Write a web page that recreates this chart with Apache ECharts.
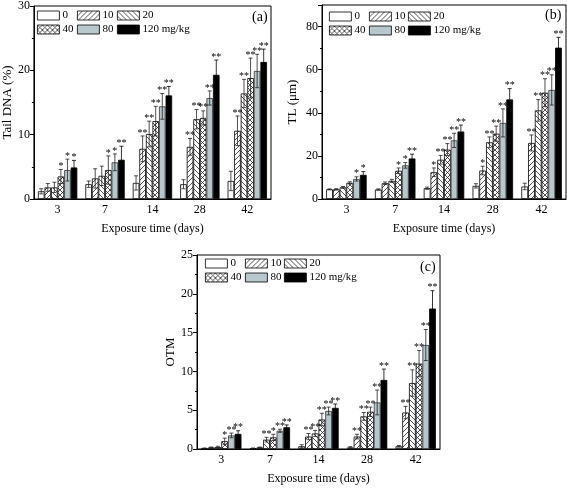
<!DOCTYPE html>
<html>
<head>
<meta charset="utf-8">
<script src="https://cdn.jsdelivr.net/npm/echarts@6/dist/echarts.min.js"></script>
<style>html,body{margin:0;padding:0;background:#fff;}#c{width:567px;height:488px;}</style>
</head>
<body>
<div id="c"></div>
<script>
// ---------- data ----------
const categories = ['3', '7', '14', '28', '42'];
const seriesNames = ['0', '10', '20', '40', '80', '120 mg/kg'];

// Tail DNA (%) rows = series (0,10,20,40,80,120), columns = days
const tailValues = [
  [1.2, 2.3, 2.5, 2.3, 2.8],
  [1.8, 3.2, 7.8, 8.1, 10.6],
  [1.8, 3.6, 10.1, 12.4, 16.4],
  [3.5, 4.5, 12.1, 12.6, 18.8],
  [4.5, 5.7, 14.4, 15.7, 19.9],
  [4.9, 6.1, 16.1, 19.3, 21.3]
];
const tailErrors = [
  [0.4, 0.5, 1.1, 0.7, 1.5],
  [0.6, 1.5, 2.0, 1.3, 2.3],
  [0.8, 1.5, 2.0, 1.5, 2.2],
  [1.1, 2.2, 2.3, 1.1, 3.1],
  [1.7, 1.3, 2.0, 1.1, 2.6],
  [1.1, 2.1, 1.4, 2.3, 2.0]
];
const tailStars = [
  ['', '', '', '', ''],
  ['', '', '**', '**', '**'],
  ['', '', '**', '**', '**'],
  ['*', '*', '**', '**', '**'],
  ['*', '*', '**', '**', '**'],
  ['*', '**', '**', '**', '**']
];

// TL (um)
const tlValues = [
  [4.5, 4.4, 5.0, 6.1, 5.8],
  [4.5, 7.3, 12.4, 13.2, 26.0],
  [5.4, 8.4, 18.2, 26.3, 41.1],
  [7.5, 13.1, 22.9, 30.3, 49.3],
  [9.3, 15.6, 27.2, 35.3, 50.6],
  [11.2, 18.8, 31.3, 46.2, 70.2]
];
const tlErrors = [
  [0.2, 0.3, 0.5, 1.0, 1.5],
  [0.3, 0.6, 2.0, 2.0, 3.7],
  [0.4, 0.7, 2.0, 2.5, 5.0],
  [0.5, 1.3, 2.8, 3.5, 6.5],
  [1.0, 1.3, 3.3, 6.5, 7.0],
  [1.5, 2.0, 3.0, 5.0, 4.8]
];
const tlStars = [
  ['', '', '', '', ''],
  ['', '', '*', '*', '**'],
  ['', '', '**', '**', '**'],
  ['', '*', '**', '**', '**'],
  ['*', '*', '**', '**', '**'],
  ['*', '**', '**', '**', '**']
];

// OTM
const otmValues = [
  [0.1, 0.1, 0.35, 0.2, 0.35],
  [0.2, 0.2, 1.6, 1.6, 4.7],
  [0.25, 1.2, 2.0, 4.2, 8.5],
  [1.0, 1.5, 3.8, 4.8, 11.0],
  [1.75, 2.35, 4.9, 6.0, 13.4],
  [1.95, 2.8, 5.3, 8.9, 18.1]
];
const otmErrors = [
  [0.03, 0.03, 0.2, 0.1, 0.1],
  [0.05, 0.05, 0.4, 0.3, 0.8],
  [0.1, 0.3, 0.4, 0.5, 1.7],
  [0.4, 0.4, 0.8, 0.6, 1.7],
  [0.3, 0.2, 0.5, 1.6, 2.0],
  [0.4, 0.3, 0.5, 1.4, 2.3]
];
const otmStars = [
  ['', '', '', '', ''],
  ['', '', '**', '**', '**'],
  ['', '**', '**', '**', '**'],
  ['*', '*', '**', '**', '**'],
  ['**', '**', '**', '**', '**'],
  ['**', '**', '**', '**', '**']
];

// ---------- styling helpers ----------
const FONT = 'Liberation Serif';
const CAT_GAP = 0.17;

function makePattern(kind) {
  const s = 5;
  const cv = document.createElement('canvas');
  cv.width = s; cv.height = s;
  const ctx = cv.getContext('2d');
  ctx.fillStyle = '#fff';
  ctx.fillRect(0, 0, s, s);
  ctx.strokeStyle = '#2a2a2a';
  ctx.lineWidth = 0.8;
  ctx.beginPath();
  for (let k = -1; k <= 1; k++) {
    if (kind === 'fwd' || kind === 'cross') {
      ctx.moveTo(k * s, s); ctx.lineTo(k * s + s, 0);
    }
    if (kind === 'back' || kind === 'cross') {
      ctx.moveTo(k * s, 0); ctx.lineTo(k * s + s, s);
    }
  }
  ctx.stroke();
  return { image: cv, repeat: 'repeat' };
}

const fills = [
  '#ffffff',
  makePattern('fwd'),
  makePattern('back'),
  makePattern('cross'),
  '#b7c7cb',
  '#000000'
];

const panels = [
  { vals: tailValues, errs: tailErrors, stars: tailStars, name: 'Tail DNA (%)', max: 30, interval: 10,
    grid: { left: 32, top: 5, width: 239, height: 194 }, nameGap: 18,
    legendLeft: [37, 77, 117], legendTop: 9.5, title: { text: '(a)', left: 252, top: 10 } },
  { vals: tlValues, errs: tlErrors, stars: tlStars, name: 'TL (\u03bcm)', max: 90, interval: 20,
    grid: { left: 322, top: 5, width: 244, height: 194 }, nameGap: 23,
    legendLeft: [329, 369, 408], legendTop: 10.5, title: { text: '(b)', left: 545, top: 8 } },
  { vals: otmValues, errs: otmErrors, stars: otmStars, name: 'OTM', max: 25, interval: 5,
    grid: { left: 197, top: 255, width: 243, height: 194 }, nameGap: 18,
    legendLeft: [205, 245, 284], legendTop: 257.5, title: { text: '(c)', left: 420, top: 260 } }
];

const option = {
  animation: false,
  backgroundColor: '#fff',
  textStyle: { fontFamily: FONT },
  title: [], grid: [], xAxis: [], yAxis: [], legend: [], series: []
};

panels.forEach((p, pi) => {
  option.grid.push(Object.assign({ show: true, borderColor: '#000', borderWidth: 1, backgroundColor: 'transparent' }, p.grid));
  option.title.push({ text: p.title.text, left: p.title.left, top: p.title.top, padding: 0,
    textStyle: { fontFamily: FONT, fontSize: 14, fontWeight: 'normal', color: '#000' } });
  option.xAxis.push({
    type: 'category', gridIndex: pi, data: categories,
    axisLine: { lineStyle: { color: '#000', width: 1 } },
    axisTick: { alignWithLabel: true, length: 4, lineStyle: { color: '#000' } },
    axisLabel: { color: '#000', fontFamily: FONT, fontSize: 12, margin: 5 },
    name: 'Exposure time (days)', nameLocation: 'middle', nameGap: 24,
    nameTextStyle: { color: '#000', fontFamily: FONT, fontSize: 12 }
  });
  option.yAxis.push({
    type: 'value', gridIndex: pi, min: 0, max: p.max, interval: p.interval,
    axisLine: { show: true, lineStyle: { color: '#000', width: 1 } },
    axisTick: { show: true, length: 4, lineStyle: { color: '#000' } },
    minorTick: { show: true, splitNumber: 2, length: 2, lineStyle: { color: '#000' } },
    splitLine: { show: false },
    axisLabel: { color: '#000', fontFamily: FONT, fontSize: 12, margin: 4, showMaxLabel: p.max % p.interval === 0 },
    name: p.name, nameLocation: 'middle', nameGap: p.nameGap,
    nameTextStyle: { color: '#000', fontFamily: FONT, fontSize: 13 }
  });
  // legends: three columns of two rows
  const cols = [[0, 3], [1, 4], [2, 5]];
  cols.forEach((c, ci) => {
    option.legend.push({
      data: c.map(k => seriesNames[k]), orient: 'vertical', left: p.legendLeft[ci], top: p.legendTop,
      padding: 0, itemGap: 2, itemWidth: 22, itemHeight: 9, icon: 'rect', selectedMode: false,
      itemStyle: { borderColor: '#000', borderWidth: 0.8 },
      textStyle: { fontFamily: FONT, fontSize: 11, color: '#000', padding: [0, 0, 0, -2], lineHeight: 12 }
    });
  });
  // bars
  seriesNames.forEach((nm, si) => {
    option.series.push({
      type: 'bar', name: nm, xAxisIndex: pi, yAxisIndex: pi,
      data: p.vals[si], barGap: '0%', barCategoryGap: (CAT_GAP * 100) + '%',
      itemStyle: { color: fills[si], borderColor: si === 4 ? '#333' : '#000', borderWidth: 0.8 },
      z: 2
    });
  });
  // error bars + significance marks
  const ebData = [];
  for (let si = 0; si < seriesNames.length; si++) {
    for (let ci = 0; ci < categories.length; ci++) {
      ebData.push([ci, p.vals[si][ci], p.errs[si][ci], si]);
    }
  }
  const stars = p.stars;
  option.series.push({
    type: 'custom', name: 'err' + pi, xAxisIndex: pi, yAxisIndex: pi, z: 5,
    data: ebData,
    renderItem: function (params, api) {
      const ci = api.value(0), v = api.value(1), e = api.value(2), si = api.value(3);
      const band = api.size([1, 0])[0];
      const groupW = band * (1 - CAT_GAP);
      const bw = groupW / seriesNames.length;
      const c = api.coord([ci, v]);
      const x = c[0] - groupW / 2 + bw * (si + 0.5);
      const yTop = api.coord([ci, v + e])[1];
      const yBot = api.coord([ci, Math.max(0, v - e)])[1];
      const cap = 2;
      const ls = { stroke: si === 5 ? '#000' : '#222', lineWidth: 0.8 };
      const children = [
        { type: 'line', shape: { x1: x, y1: yBot, x2: x, y2: yTop }, style: ls },
        { type: 'line', shape: { x1: x - cap, y1: yTop, x2: x + cap, y2: yTop }, style: ls },
        { type: 'line', shape: { x1: x - cap, y1: yBot, x2: x + cap, y2: yBot }, style: ls }
      ];
      const st = stars[si][ci];
      if (st) {
        children.push({ type: 'text', style: { text: st, x: x, y: yTop + 2, align: 'center', verticalAlign: 'bottom',
          font: '10px "' + FONT + '"', fill: '#000' } });
      }
      return { type: 'group', children: children };
    }
  });
});

const chart = echarts.init(document.getElementById('c'), null, { renderer: 'canvas' });
chart.setOption(option);
</script>
</body>
</html>
